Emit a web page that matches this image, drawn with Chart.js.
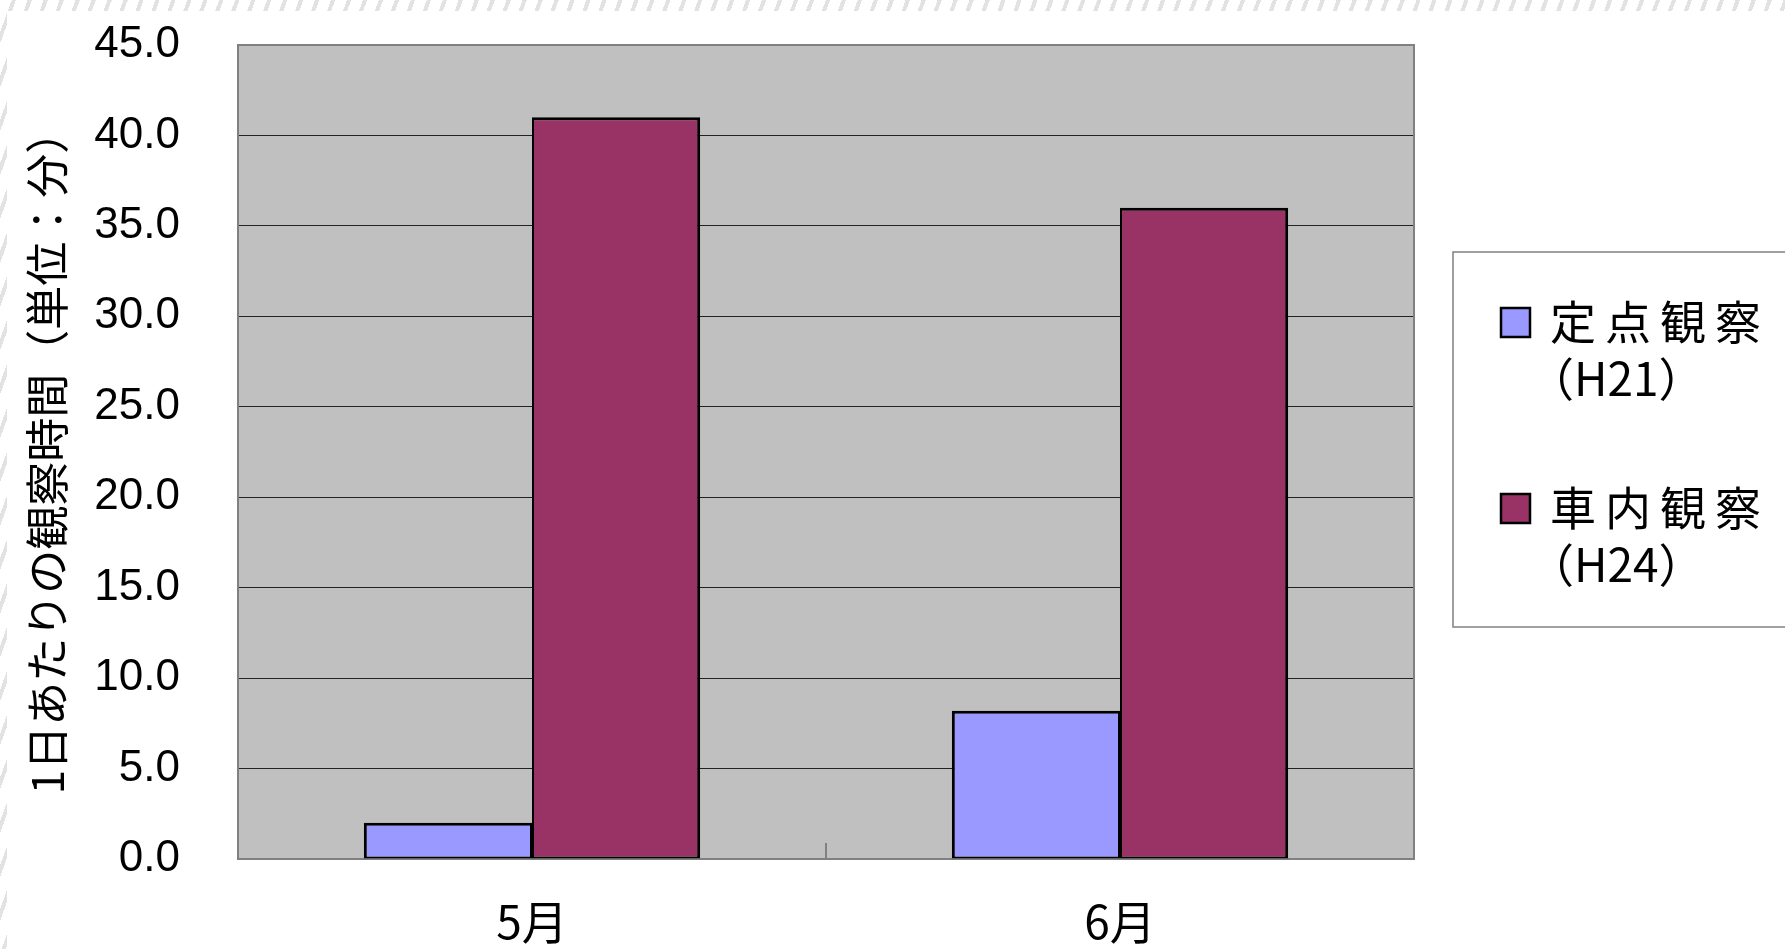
<!DOCTYPE html>
<html lang="ja">
<head>
<meta charset="utf-8">
<title>1日あたりの観察時間</title>
<script src="https://cdn.jsdelivr.net/npm/chart.js@4.4.1/dist/chart.umd.min.js"></script>
<style>
  html, body {
    margin: 0;
    padding: 0;
    width: 1785px;
    height: 949px;
    overflow: hidden;
    background: repeating-linear-gradient(110deg, #ffffff 0 11px, #e2e2e2 11px 15px);
  }
  #sheet {
    position: absolute;
    left: 7px;
    top: 11px;
    right: 0;
    bottom: 0;
    background: #ffffff;
  }
  #observation {
    position: absolute;
    left: 0;
    top: 0;
  }
</style>
</head>
<body>
<div id="sheet"></div>
<canvas id="observation" width="1785" height="949"></canvas>
<script>
  /* Data */
  const months = ['5月', '6月'];
  const fixedPoint = [2.0, 8.2];   // 定点観察（H21）
  const inVehicle = [41.0, 36.0];  // 車内観察（H24）
  const seriesNames = ['定点観察', '車内観察'];
  const seriesPeriods = ['（H21）', '（H24）'];
  const yMin = 0;
  const yMax = 45;
  const yStep = 5;
  const yTitle = '1日あたりの観察時間（単位：分）';

  const colors = ['#9999ff', '#993366'];
  const jpFont = '"Noto Sans CJK JP", "Noto Sans", sans-serif';
  const numFont = '"Liberation Sans", Arial, sans-serif';

  // grey plot background, painted before the grid lines
  const plotBackground = {
    id: 'plotBackground',
    beforeDraw: (chart) => {
      const { ctx, chartArea: a } = chart;
      ctx.save();
      ctx.fillStyle = '#c0c0c0';
      ctx.fillRect(a.left, a.top, a.right - a.left, a.bottom - a.top);
      ctx.restore();
    },
    beforeDatasetsDraw: (chart) => {
      const { ctx, chartArea: a, scales } = chart;
      ctx.save();
      ctx.strokeStyle = '#808080';
      ctx.lineWidth = 2;
      ctx.strokeRect(a.left, a.top, a.right - a.left, a.bottom - a.top);

      // short inward tick between the two months
      const x = (scales.x.getPixelForValue(0) + scales.x.getPixelForValue(1)) / 2;
      ctx.beginPath();
      ctx.moveTo(x, a.bottom);
      ctx.lineTo(x, a.bottom - 16);
      ctx.stroke();
      ctx.restore();
    },
  };

  // fullwidth brackets drawn at half width, like a proportional font
  const fillCompact = (ctx, text, x, y) => {
    let cx = x;
    for (const ch of text) {
      const w = ctx.measureText(ch).width;
      if (ch === '（') {
        ctx.fillText(ch, cx - w / 2, y);
        cx += w / 2;
      } else if (ch === '）') {
        ctx.fillText(ch, cx, y);
        cx += w / 2;
      } else {
        ctx.fillText(ch, cx, y);
        cx += w;
      }
    }
  };

  // boxed legend on the right, two lines per entry
  const sideLegend = {
    id: 'sideLegend',
    afterDraw: (chart) => {
      const { ctx } = chart;
      const box = { left: 1453, top: 252, right: 1800, bottom: 627 };
      ctx.save();
      ctx.fillStyle = '#ffffff';
      ctx.fillRect(box.left, box.top, box.right - box.left, box.bottom - box.top);
      ctx.strokeStyle = '#808080';
      ctx.lineWidth = 1.5;
      ctx.strokeRect(box.left, box.top, box.right - box.left, box.bottom - box.top);

      ctx.textBaseline = 'middle';
      ctx.textAlign = 'left';

      chart.data.datasets.forEach((ds, i) => {
        const y = 322 + i * 186;
        ctx.fillStyle = ds.backgroundColor;
        ctx.fillRect(1501, y - 14, 29, 29);
        ctx.strokeStyle = '#000000';
        ctx.lineWidth = 2.5;
        ctx.strokeRect(1501, y - 14, 29, 29);

        ctx.fillStyle = '#000000';
        ctx.font = `46px ${jpFont}`;
        ctx.letterSpacing = '9px';
        ctx.fillText(ds.label, 1550, y);

        ctx.font = `46px ${jpFont}`;
        ctx.letterSpacing = '0px';
        fillCompact(ctx, ds.period, 1551, y + 57);
      });
      ctx.restore();
    },
  };

  const datasets = [fixedPoint, inVehicle].map((values, i) => ({
    label: seriesNames[i],
    period: seriesPeriods[i],
    data: values,
    backgroundColor: colors[i],
    borderColor: '#000000',
    borderWidth: i === 0
      ? { top: 3, left: 3, right: 2, bottom: 2 }
      : { top: 3, left: 2, right: 3, bottom: 2 },
    borderSkipped: false,
    categoryPercentage: 0.572,
    barPercentage: 1,
  }));

  new Chart(document.getElementById('observation'), {
    type: 'bar',
    data: {
      labels: months,
      datasets,
    },
    options: {
      responsive: false,
      animation: false,
      devicePixelRatio: 1,
      layout: {
        padding: { top: 45, right: 371, bottom: 0, left: 0 },
      },
      plugins: {
        legend: { display: false },
        tooltip: { enabled: false },
      },
      scales: {
        x: {
          grid: { display: false },
          border: { display: false },
          ticks: {
            color: '#000000',
            padding: 27,
            font: { family: jpFont, size: 46 },
          },
          afterFit: (scale) => {
            scale.height = 90;
          },
        },
        y: {
          min: yMin,
          max: yMax,
          grid: {
            color: '#222222',
            lineWidth: 1,
            drawTicks: false,
          },
          border: { display: false },
          ticks: {
            stepSize: yStep,
            color: '#000000',
            padding: 58,
            font: { family: numFont, size: 44 },
            callback: (value) => value.toFixed(1),
          },
          title: {
            display: true,
            text: yTitle,
            color: '#000000',
            padding: { top: 21, bottom: 0 },
            font: { family: jpFont, size: 44 },
          },
          afterFit: (scale) => {
            scale.width = 238;
            // the wide label gap should not push the plot down
            scale.paddingTop = 0;
            scale.paddingBottom = 0;
          },
        },
      },
    },
    plugins: [plotBackground, sideLegend],
  });
</script>
</body>
</html>
